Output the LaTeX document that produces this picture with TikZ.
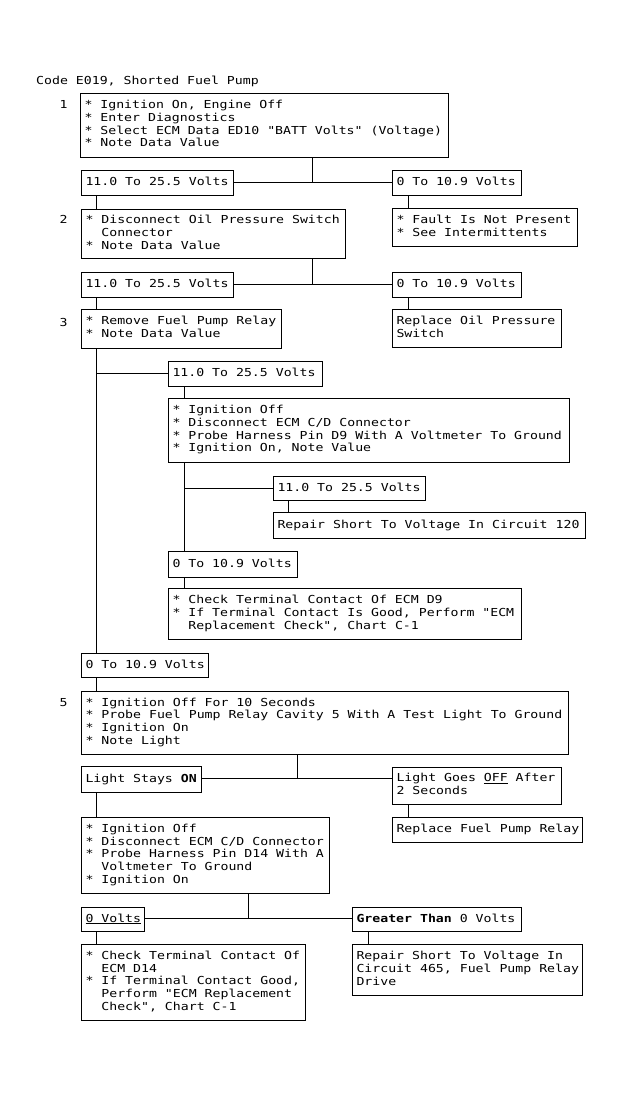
\documentclass[tikz,border=0pt]{standalone}
\usepackage{fontspec}
\newfontfamily\mono[FakeStretch=1.2]{DejaVu Sans Mono}
\newcommand\monofont{\mono\fontsize{11}{12.7}\selectfont}
\newcommand\monospaces{\spaceskip=\fontcharwd\font`0\relax\xspaceskip=\spaceskip}
\tikzset{
  box/.style={draw, line width=1pt, anchor=north west, inner xsep=4pt, inner ysep=0pt,
    align=left, font=\monofont, execute at begin node={\monospaces}, execute at end node={\strut}},
  wire/.style={line width=1pt},
  stepnum/.style={anchor=base, inner sep=0pt, font=\monofont, execute at begin node={\monospaces}},
}
\newcommand\bx[6]{\node[box, minimum height=#5pt, text width={#4pt-8pt}] (#1) at (#2pt,-#3pt) {#6};}
\newcommand\ind{\phantom{**}}
\begin{document}
\begin{tikzpicture}[x=1pt,y=1pt]
\fill[white] (0,0) rectangle (623,-1096);
\useasboundingbox (0,0) rectangle (623,-1096);

\node[stepnum, anchor=base west] (title) at (36,-84) {Code E019, Shorted Fuel Pump};

% column coordinates
\coordinate (xL) at (96,0);
\coordinate (xM) at (184,0);
\coordinate (xR) at (408,0);
\coordinate (xN) at (288,0);
\coordinate (xG) at (368,0);
\coordinate (xJa) at (312,0);
\coordinate (xJb) at (297,0);
\coordinate (xJc) at (248,0);

% step 1
\node[stepnum] (n1) at (63.5,-108) {1};
\bx{box1}{80}{93}{368}{64}{\mbox{* Ignition On, Engine Off}\\\mbox{* Enter Diagnostics}\\\mbox{* Select ECM Data ED10 "BATT Volts" (Voltage)}\\\mbox{* Note Data Value}}
\bx{lbl1a}{81}{170}{152}{25}{\mbox{11.0 To 25.5 Volts}}
\bx{lbl1b}{392}{170}{129}{25}{\mbox{0 To 10.9 Volts}}
\bx{fault}{392}{208}{185}{38}{\mbox{* Fault Is Not Present}\\\mbox{* See Intermittents}}

% step 2
\node[stepnum] (n2) at (63.5,-223) {2};
\bx{box2}{81}{209}{264}{49}{\mbox{* Disconnect Oil Pressure Switch}\\\mbox{\ind Connector}\\\mbox{* Note Data Value}}
\bx{lbl2a}{81}{272}{152}{25}{\mbox{11.0 To 25.5 Volts}}
\bx{lbl2b}{392}{272}{129}{25}{\mbox{0 To 10.9 Volts}}
\bx{oil}{392}{309}{169}{38}{\mbox{Replace Oil Pressure}\\\mbox{Switch}}

% step 3
\node[stepnum] (n3) at (63.5,-326) {3};
\bx{box3}{81}{309}{200}{39}{\mbox{* Remove Fuel Pump Relay}\\\mbox{* Note Data Value}}
\bx{lbl3a}{168}{361}{154}{25}{\mbox{11.0 To 25.5 Volts}}
\bx{box4}{168}{398}{401}{64}{\mbox{* Ignition Off}\\\mbox{* Disconnect ECM C/D Connector}\\\mbox{* Probe Harness Pin D9 With A Voltmeter To Ground}\\\mbox{* Ignition On, Note Value}}
\bx{lbl4a}{273}{476}{152}{24}{\mbox{11.0 To 25.5 Volts}}
\bx{rep120}{273}{512}{312}{26}{\mbox{Repair Short To Voltage In Circuit 120}}
\bx{lbl4b}{168}{551}{129}{26}{\mbox{0 To 10.9 Volts}}
\bx{chkD9}{168}{588}{353}{51}{\mbox{* Check Terminal Contact Of ECM D9}\\\mbox{* If Terminal Contact Is Good, Perform "ECM}\\\mbox{\ind Replacement Check", Chart C-1}}
\bx{lbl3b}{81}{653}{127}{24}{\mbox{0 To 10.9 Volts}}

% step 5
\node[stepnum] (n5) at (63.5,-706) {5};
\bx{box5}{81}{691}{487}{63}{\mbox{* Ignition Off For 10 Seconds}\\\mbox{* Probe Fuel Pump Relay Cavity 5 With A Test Light To Ground}\\\mbox{* Ignition On}\\\mbox{* Note Light}}
\bx{lbl5a}{81}{766}{120}{26}{\mbox{Light Stays \textbf{ON}}}
\bx{lbl5b}{392}{767}{169}{37}{\mbox{Light Goes \underline{OFF} After}\\\mbox{2 Seconds}}
\bx{relay}{392}{817}{190}{25}{\mbox{Replace Fuel Pump Relay}}
\bx{box6}{81}{817}{248}{76}{\mbox{* Ignition Off}\\\mbox{* Disconnect ECM C/D Connector}\\\mbox{* Probe Harness Pin D14 With A}\\\mbox{\ind Voltmeter To Ground}\\\mbox{* Ignition On}}
\bx{lbl6a}{81}{907}{63}{24}{\mbox{\underline{0 Volts}}}
\bx{lbl6b}{352}{907}{169}{24}{\mbox{\textbf{Greater Than} 0 Volts}}
\bx{chkD14}{81}{944}{224}{76}{\mbox{* Check Terminal Contact Of}\\\mbox{\ind ECM D14}\\\mbox{* If Terminal Contact Good,}\\\mbox{\ind Perform "ECM Replacement}\\\mbox{\ind Check", Chart C-1}}
\bx{rep465}{352}{944}{230}{51}{\mbox{Repair Short To Voltage In}\\\mbox{Circuit 465, Fuel Pump Relay}\\\mbox{Drive}}

% junction coordinates
\coordinate (j1) at (312,-182);
\coordinate (j2) at (312,-284);
\coordinate (j3) at (96,-373);
\coordinate (j4) at (184,-488);
\coordinate (j5) at (297,-778);
\coordinate (j6) at (248,-918);

% connectors
\draw[wire] (box1.south -| xJa) -- (j1);
\draw[wire] (lbl1a.east |- j1) -- (lbl1b.west |- j1);
\draw[wire] (lbl1a.south -| xL) -- (box2.north -| xL);
\draw[wire] (lbl1b.south -| xR) -- (fault.north -| xR);

\draw[wire] (box2.south -| xJa) -- (j2);
\draw[wire] (lbl2a.east |- j2) -- (lbl2b.west |- j2);
\draw[wire] (lbl2a.south -| xL) -- (box3.north -| xL);
\draw[wire] (lbl2b.south -| xR) -- (oil.north -| xR);

\draw[wire] (box3.south -| xL) -- (lbl3b.north -| xL);
\draw[wire] (j3) -- (lbl3a.west |- j3);
\draw[wire] (lbl3a.south -| xM) -- (box4.north -| xM);
\draw[wire] (box4.south -| xM) -- (lbl4b.north -| xM);
\draw[wire] (j4) -- (lbl4a.west |- j4);
\draw[wire] (lbl4a.south -| xN) -- (rep120.north -| xN);
\draw[wire] (lbl4b.south -| xM) -- (chkD9.north -| xM);

\draw[wire] (lbl3b.south -| xL) -- (box5.north -| xL);
\draw[wire] (box5.south -| xJb) -- (j5);
\draw[wire] (lbl5a.east |- j5) -- (lbl5b.west |- j5);
\draw[wire] (lbl5a.south -| xL) -- (box6.north -| xL);
\draw[wire] (lbl5b.south -| xR) -- (relay.north -| xR);

\draw[wire] (box6.south -| xJc) -- (j6);
\draw[wire] (lbl6a.east |- j6) -- (lbl6b.west |- j6);
\draw[wire] (lbl6a.south -| xL) -- (chkD14.north -| xL);
\draw[wire] (lbl6b.south -| xG) -- (rep465.north -| xG);
\end{tikzpicture}
\end{document}
